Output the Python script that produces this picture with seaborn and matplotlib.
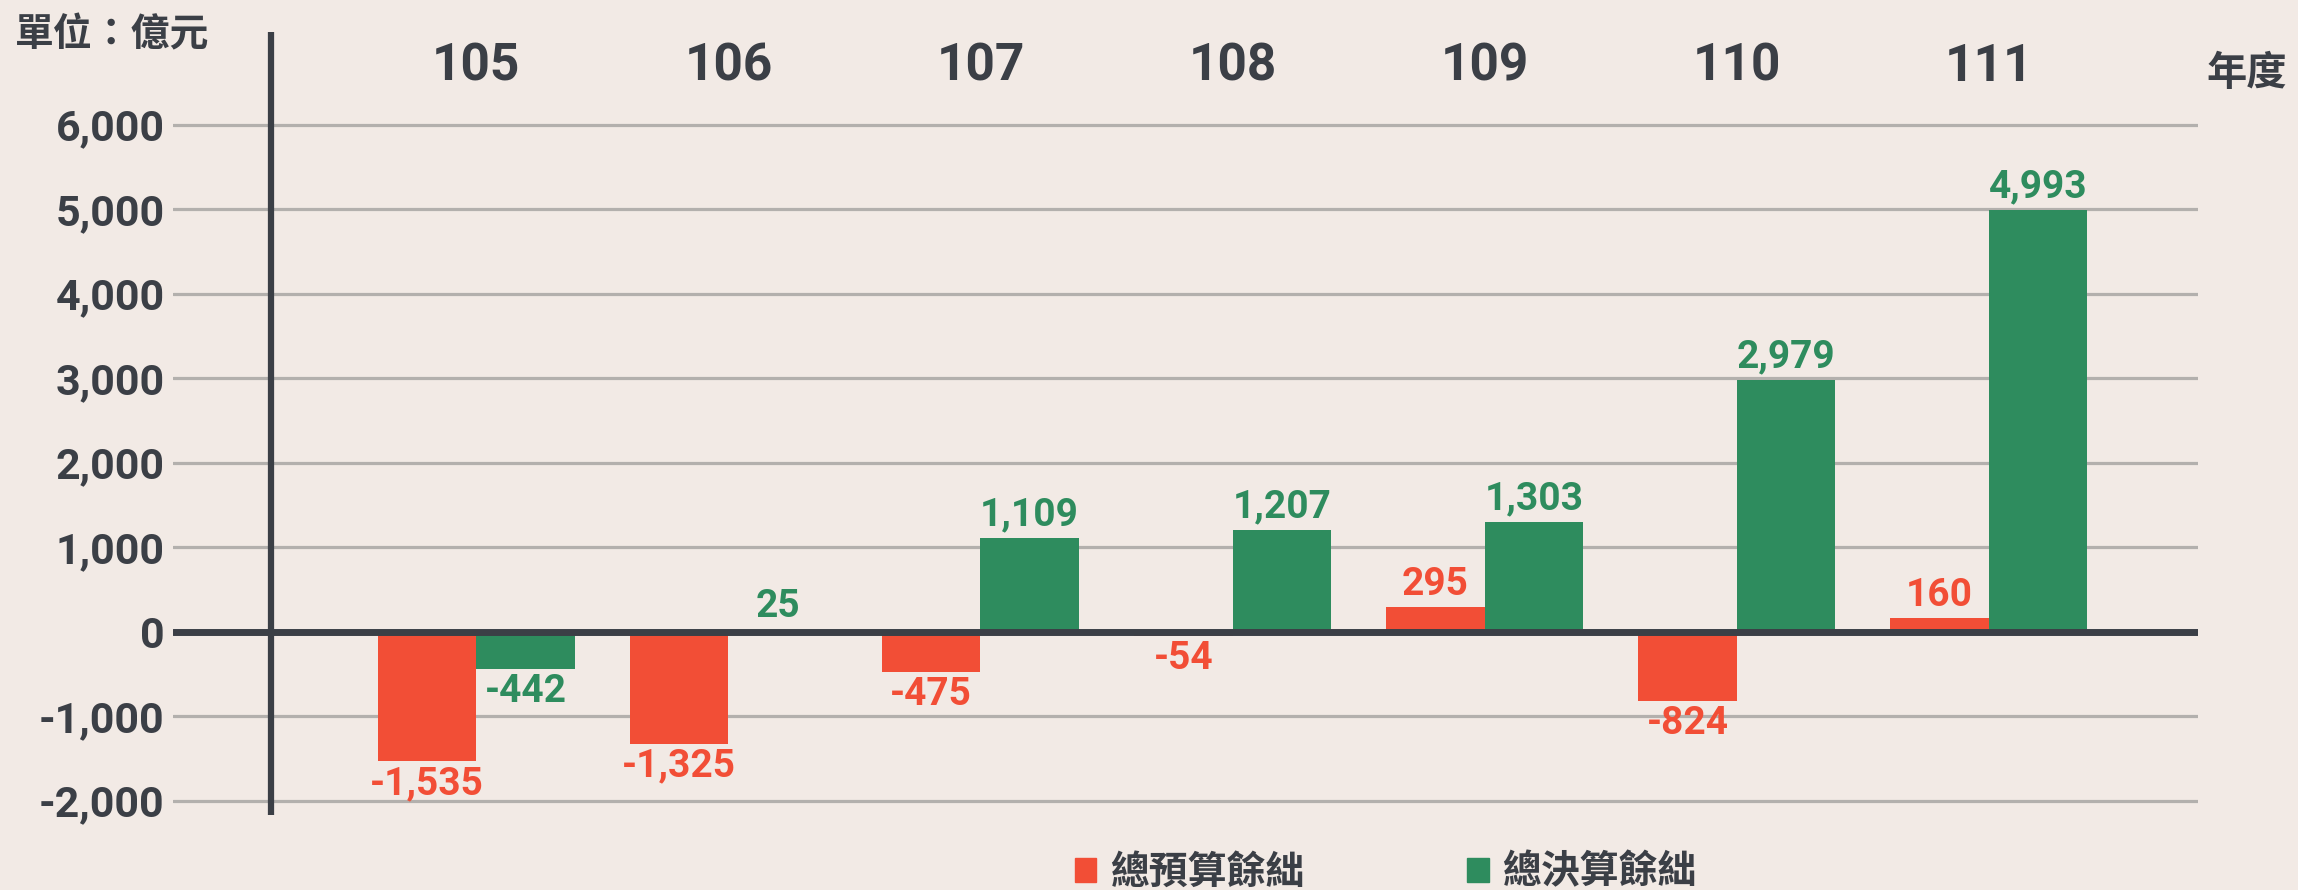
import pandas as pd
import matplotlib.pyplot as plt
import seaborn as sns
from matplotlib.patches import Patch

# Data (unit: 億元)
years = ['105', '106', '107', '108', '109', '110', '111']
budget = [-1535, -1325, -475, -54, 295, -824, 160]      # 總預算餘絀
final = [-442, 25, 1109, 1207, 1303, 2979, 4993]         # 總決算餘絀
series_names = ['總預算餘絀', '總決算餘絀']
yticks = [6000, 5000, 4000, 3000, 2000, 1000, 0, -1000, -2000]

red = '#f24e36'
green = '#2e8c5e'
dark = '#3b3f46'
grid_c = '#b3b0ad'
bg = '#f2eae5'

df = pd.DataFrame({
    'year': years * 2,
    'value': budget + final,
    'type': [series_names[0]] * len(years) + [series_names[1]] * len(years),
})

sns.set_theme(style='white')
plt.rcParams['font.family'] = ['Roboto', 'Noto Sans CJK TC', 'DejaVu Sans']

fig = plt.figure(figsize=(22.98, 8.90), dpi=100, facecolor=bg)
ax = fig.add_axes([0.0753, 0.0774, 0.8813, 0.799])
ax.set_facecolor(bg)

sns.barplot(data=df, x='year', y='value', hue='type', palette=[red, green],
            width=0.78, saturation=1, legend=False, ax=ax, zorder=2,
            linewidth=0)

ax.set_xlim(-1.203, 6.831)
ax.set_ylim(-2243, 6174)

# grid lines
ax.set_yticks(yticks)
ax.set_yticklabels([f'{v:,}' for v in yticks])
ax.yaxis.grid(True, color=grid_c, lw=2.3)
ax.set_axisbelow(True)
for s in ax.spines.values():
    s.set_visible(False)

# zero line and vertical axis
ax.axhline(0, color=dark, lw=5, zorder=4)
ax.plot([-0.814, -0.814], [7094, -2174], color=dark, lw=4.5, zorder=4,
        clip_on=False, solid_capstyle='butt')

ax.tick_params(axis='y', length=0, pad=6, labelsize=31, labelcolor=dark)
ax.xaxis.tick_top()
ax.tick_params(axis='x', length=0, pad=13, labelsize=37, labelcolor=dark)
for t in ax.get_xticklabels() + ax.get_yticklabels():
    t.set_fontweight('bold')
ax.set_xlabel('')
ax.set_ylabel('')

# value labels
for cont, vals, col in zip(ax.containers, [budget, final], [red, green]):
    ax.bar_label(cont, labels=[f'{v:,}' for v in vals], padding=3,
                 fontsize=28, fontweight='bold', color=col, zorder=5)

fig.text(10 / 1568, 1 - 24 / 607, '單位：億元', fontsize=28, fontweight='bold',
         color=dark, ha='left', va='center', family=['Noto Sans CJK TC'])
fig.text(1533 / 1568, 1 - 50 / 607, '年度', fontsize=29, fontweight='bold',
         color=dark, ha='center', va='center', family=['Noto Sans CJK TC'])

handles = [Patch(color=red, label=series_names[0]),
           Patch(color=green, label=series_names[1])]
leg = fig.legend(handles=handles, loc='center', bbox_to_anchor=(0.603, 0.02),
                 ncol=2, frameon=False, handlelength=0.55, handleheight=0.55,
                 handletextpad=0.35, columnspacing=4.2,
                 prop={'family': 'Noto Sans CJK TC', 'weight': 'bold', 'size': 28})
for t in leg.get_texts():
    t.set_color(dark)

fig.savefig('out.png', dpi=100, facecolor=bg)
